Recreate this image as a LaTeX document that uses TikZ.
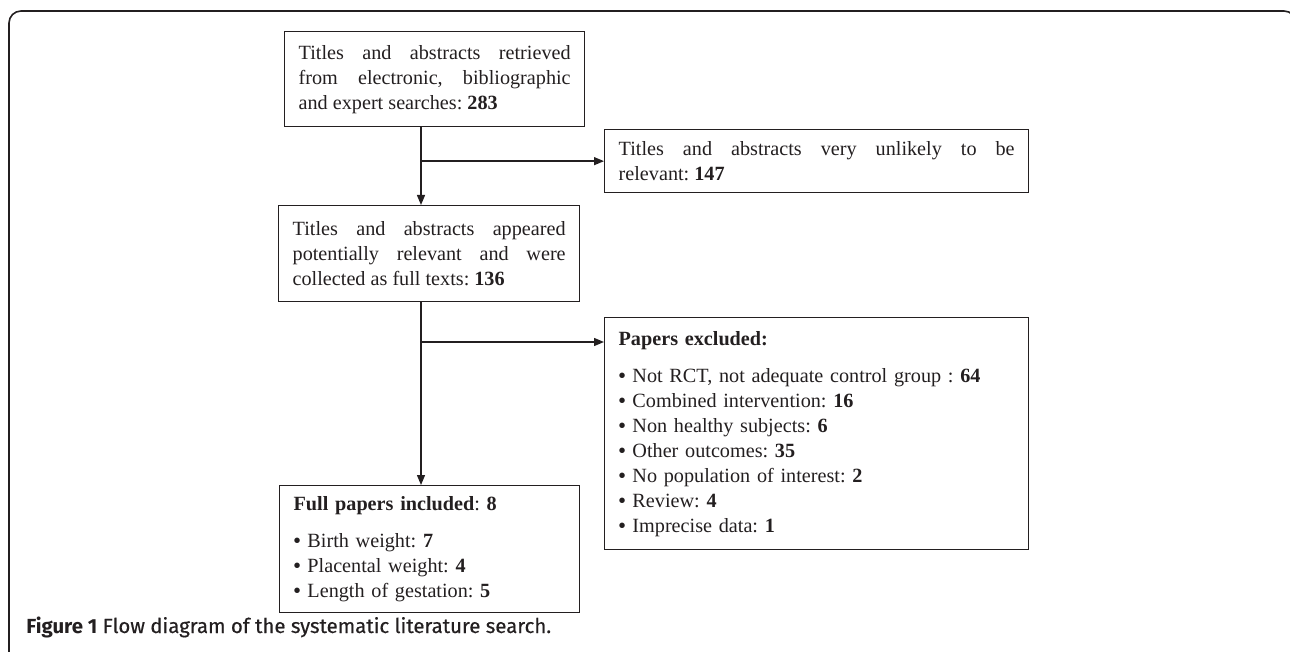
\documentclass[tikz,border=0pt]{standalone}
\usepackage{fontspec}
\setmainfont{Liberation Serif}
\newfontfamily\captionfont{Fira Sans}[UprightFeatures={FakeBold=0.5}]
\usetikzlibrary{arrows.meta,positioning}
\definecolor{flowink}{RGB}{35,31,32}
\frenchspacing
\newcommand{\flowdot}{{\bfseries\textbullet}\ }
\tikzset{
    flowbox/.style={draw=flowink, line width=0.65pt, anchor=north west, inner xsep=7pt, inner ysep=4pt, text=flowink, font=\fontsize{10.1}{12.5}\selectfont},
    flowarrow/.style={draw=flowink, line width=0.65pt, -{Triangle[length=5pt,width=4pt]}}
}

\begin{document}
\begin{tikzpicture}[x=0.5pt,y=-0.5pt]
    \useasboundingbox (0,0) rectangle (1290,652);
    \clip (0,0) rectangle (1290,652);
    \draw[flowink, line width=0.8pt, rounded corners=6pt] (9,670) -- (9,11) -- (1296,11) -- (1296,670);

    \node[flowbox, text width=136pt, minimum height=47.5pt, align=justify] (retrieved) at (284,31) {Titles and abstracts retrieved\linebreak from electronic, bibliographic\linebreak and expert searches: \textbf{283}};
    \node[flowbox, text width=198pt, minimum height=31.5pt, align=justify] (unlikely) at (604,129) {Titles and abstracts very unlikely to be\linebreak relevant: \textbf{147}};
    \node[flowbox, text width=136.5pt, minimum height=48pt, align=justify] (appeared) at (278,205) {Titles and abstracts appeared\linebreak potentially relevant and were\linebreak collected as full texts: \textbf{136}};
    \node[flowbox, text width=198pt, minimum height=116pt, align=left] (excluded) at (604,317) {\textbf{Papers excluded:}\\[6pt]
        \flowdot Not RCT, not adequate control group : \textbf{64}\\
        \flowdot Combined intervention: \textbf{16}\\
        \flowdot Non healthy subjects: \textbf{6}\\
        \flowdot Other outcomes: \textbf{35}\\
        \flowdot No population of interest: \textbf{2}\\
        \flowdot Review: \textbf{4}\\
        \flowdot Imprecise data: \textbf{1}};
    \node[flowbox, text width=136pt, minimum height=63.5pt, align=left] (included) at (279,485) {\textbf{Full papers included}: \textbf{8}\\[6pt]
        \flowdot Birth weight: \textbf{7}\\
        \flowdot Placental weight: \textbf{4}\\
        \flowdot Length of gestation: \textbf{5}};

    \coordinate (spine) at (421,0);
    \coordinate (exclbranch) at (421,342);
    \draw[flowarrow] (retrieved.south -| spine) -- (appeared.north -| spine);
    \draw[flowarrow] (spine |- unlikely.west) -- (unlikely.west);
    \draw[flowarrow] (appeared.south -| spine) -- (included.north -| spine);
    \draw[flowarrow] (exclbranch) -- (excluded.west |- exclbranch);

    \node[anchor=base west, inner sep=0pt, text=flowink, font=\captionfont\fontsize{10.2}{12}\selectfont] (caption) at (26,633) {\textbf{Figure 1} Flow diagram of the systematic literature search.};
\end{tikzpicture}
\end{document}
